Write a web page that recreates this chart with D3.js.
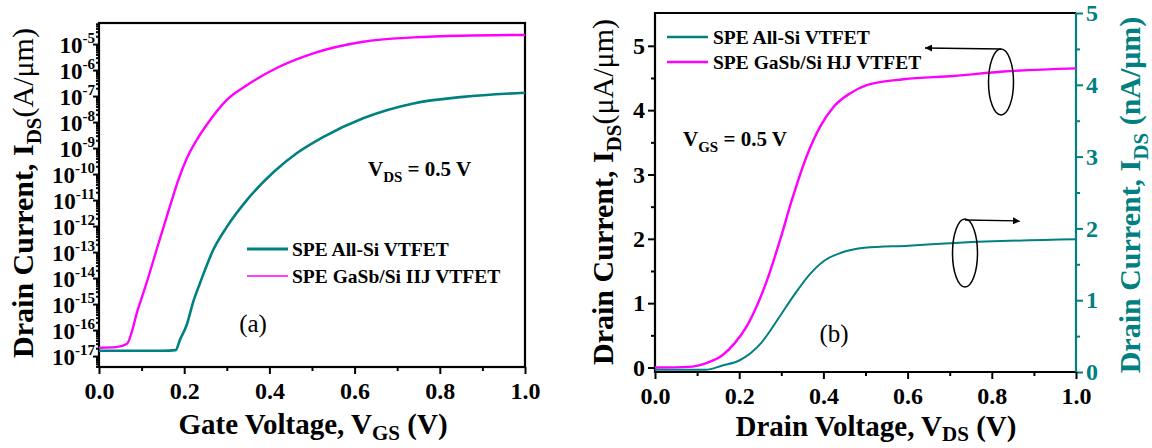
<!DOCTYPE html>
<html>
<head>
<meta charset="utf-8">
<script src="https://cdn.jsdelivr.net/npm/d3@7"></script>
<style>
  body { margin: 0; background: #fff; }
  svg { display: block; font-family: "Liberation Serif", "Times New Roman", serif; }
</style>
</head>
<body>
<div id="graph"></div>
<script>
// ---- data ----
// (a) transfer characteristics, VDS = 0.5 V, log scale (A/um)
const vgsAllSi = [0, 0.05, 0.1, 0.15, 0.18, 0.19, 0.206, 0.221, 0.237, 0.268, 0.30, 0.347, 0.41, 0.464, 0.527, 0.62, 0.738, 0.855, 1.0];
const idAllSi = [1.6e-17, 1.6e-17, 1.6e-17, 1.6e-17, 1.7e-17, 4.2e-17, 1.6e-16, 1.2e-15, 6.3e-15, 1.2e-13, 9.3e-13, 1e-11, 1.2e-10, 6.3e-10, 2.7e-9, 1.4e-8, 5.2e-8, 9.3e-8, 1.35e-7];
const vgsGaSb = [0, 0.04, 0.065, 0.092, 0.116, 0.135, 0.159, 0.171, 0.186, 0.206, 0.229, 0.261, 0.30, 0.347, 0.417, 0.503, 0.62, 0.738, 0.85, 1.0];
const idGaSb = [2.1e-17, 2.2e-17, 2.9e-17, 6.8e-16, 1.1e-14, 1.2e-13, 2.3e-12, 1e-11, 5.9e-11, 4e-10, 2e-9, 1.2e-8, 7.1e-8, 2.6e-7, 1.2e-6, 4.4e-6, 1.23e-5, 1.8e-5, 2.1e-5, 2.24e-5];

// (b) output characteristics, VGS = 0.5 V
const vdsGaSb = [0, 0.08, 0.12, 0.16, 0.189, 0.217, 0.241, 0.269, 0.297, 0.325, 0.36, 0.392, 0.424, 0.463, 0.503, 0.59, 0.709, 0.827, 1.0];
const idsGaSb = [0, 0.01, 0.065, 0.19, 0.375, 0.63, 0.945, 1.41, 1.98, 2.6, 3.28, 3.74, 4.05, 4.26, 4.39, 4.48, 4.53, 4.60, 4.65]; // uA/um
const vdsAllSi = [0, 0.12, 0.16, 0.2, 0.253, 0.297, 0.329, 0.366, 0.402, 0.442, 0.498, 0.602, 0.723, 1.0];
const idsAllSi = [0.03, 0.03, 0.09, 0.16, 0.41, 0.78, 1.06, 1.35, 1.55, 1.66, 1.73, 1.76, 1.80, 1.85]; // nA/um

const xTicks = [0, 0.2, 0.4, 0.6, 0.8, 1.0];
const xMinor = [0.1, 0.3, 0.5, 0.7, 0.9];
const logExps = d3.range(-17, -4); // -17 .. -5
const linTicks = [0, 1, 2, 3, 4, 5];
const linMinor = [0.5, 1.5, 2.5, 3.5, 4.5];

const TEAL = "#008080";
const MAGENTA = "#ff00ff";

const width = 1152, height = 448;

const svg = d3.select("#graph").append("svg")
    .attr("width", width)
    .attr("height", height);

// ---------- panel (a) ----------
const xa = d3.scaleLinear().domain([0, 1]).range([99, 525]);
const ya = d3.scaleLog().domain([Math.pow(10, -17.42), Math.pow(10, -4.19)]).range([367, 23]);

// minor log ticks
const minorLog = [];
logExps.concat([-18]).forEach(e => {
    for (let m = 2; m <= 9; m++) {
        const v = m * Math.pow(10, e);
        if (v >= ya.domain()[0] && v <= ya.domain()[1]) minorLog.push(v);
    }
});

function styleAxis(g, color) {
    g.select(".domain").remove();
    g.selectAll("line").attr("stroke", color).attr("stroke-width", 2);
}

svg.append("g")
    .attr("transform", `translate(${xa(0)},0)`)
    .call(d3.axisLeft(ya).tickValues(minorLog).tickSize(3).tickFormat(""))
    .call(g => styleAxis(g, "#000"));

svg.append("g")
    .attr("transform", `translate(${xa(0)},0)`)
    .call(d3.axisLeft(ya).tickValues(logExps.map(e => Math.pow(10, e))).tickSize(6).tickFormat(""))
    .call(g => styleAxis(g, "#000"));

// 10^n labels
logExps.forEach(e => {
    const yy = ya(Math.pow(10, e));
    const t = svg.append("text")
        .attr("x", 95).attr("y", yy + 9)
        .attr("text-anchor", "end")
        .attr("font-weight", "bold")
        .attr("font-size", 23);
    t.append("tspan").text("10");
    t.append("tspan").attr("font-size", 15).attr("dy", -10).text(String(e));
});

function xAxisBottom(x, y0) {
    svg.append("g")
        .attr("transform", `translate(0,${y0})`)
        .call(d3.axisBottom(x).tickValues(xMinor).tickSize(4).tickFormat(""))
        .call(g => styleAxis(g, "#000"));
    svg.append("g")
        .attr("transform", `translate(0,${y0})`)
        .call(d3.axisBottom(x).tickValues(xTicks).tickSize(7).tickFormat(d3.format(".1f")))
        .call(g => styleAxis(g, "#000"))
        .call(g => g.selectAll("text")
            .attr("font-family", "Liberation Serif, Times New Roman, serif")
            .attr("font-size", 24)
            .attr("font-weight", "bold")
            .attr("fill", "#000")
            .attr("dy", "0.9em"));
}
xAxisBottom(xa, 367);

// frame
svg.append("rect")
    .attr("x", xa(0)).attr("y", ya.range()[1])
    .attr("width", xa(1) - xa(0)).attr("height", ya.range()[0] - ya.range()[1])
    .attr("fill", "none").attr("stroke", "#000").attr("stroke-width", 2.2);

const lineA = d3.line().curve(d3.curveMonotoneX);
svg.append("path")
    .attr("d", lineA(vgsAllSi.map((v, i) => [xa(v), ya(idAllSi[i])])))
    .attr("fill", "none").attr("stroke", TEAL).attr("stroke-width", 2.6);
svg.append("path")
    .attr("d", lineA(vgsGaSb.map((v, i) => [xa(v), ya(idGaSb[i])])))
    .attr("fill", "none").attr("stroke", MAGENTA).attr("stroke-width", 2.4);

// legend (a)
svg.append("line").attr("x1", 247).attr("x2", 288).attr("y1", 249).attr("y2", 249)
    .attr("stroke", TEAL).attr("stroke-width", 3);
svg.append("text").attr("x", 292).attr("y", 256).attr("font-size", 19.5).attr("font-weight", "bold")
    .text("SPE All-Si VTFET");
svg.append("line").attr("x1", 247).attr("x2", 288).attr("y1", 276).attr("y2", 276)
    .attr("stroke", MAGENTA).attr("stroke-width", 1.5);
svg.append("text").attr("x", 292).attr("y", 283).attr("font-size", 19.5).attr("font-weight", "bold")
    .text("SPE GaSb/Si IIJ VTFET");

// VDS label
const vds = svg.append("text").attr("x", 368).attr("y", 176).attr("font-size", 21).attr("font-weight", "bold");
vds.append("tspan").text("V");
vds.append("tspan").attr("font-size", 15).attr("dy", 6).text("DS");
vds.append("tspan").attr("dy", -6).text(" = 0.5 V");

svg.append("text").attr("x", 253).attr("y", 332).attr("text-anchor", "middle").attr("font-size", 25)
    .text("(a)");

// axis titles (a)
const xta = svg.append("text").attr("x", 313).attr("y", 434).attr("text-anchor", "middle")
    .attr("font-size", 29).attr("font-weight", "bold");
xta.append("tspan").text("Gate Voltage, V");
xta.append("tspan").attr("font-size", 21).attr("dy", 6).text("GS");
xta.append("tspan").attr("dy", -6).text(" (V)");

const yta = svg.append("text").attr("transform", "translate(33,193) rotate(-90)").attr("text-anchor", "middle")
    .attr("font-size", 30).attr("font-weight", "bold");
yta.append("tspan").text("Drain Current, I");
yta.append("tspan").attr("font-size", 21).attr("dy", 8).text("DS");
yta.append("tspan").attr("dy", -8).attr("font-weight", "normal").text("(A/μm)");

// ---------- panel (b) ----------
const xb = d3.scaleLinear().domain([0, 1]).range([655, 1076]);
const ybL = d3.scaleLinear().domain([-0.07, 5.51]).range([372, 13]);
const ybR = d3.scaleLinear().domain([0, 5]).range([372, 13]);

svg.append("g")
    .attr("transform", `translate(${xb(0)},0)`)
    .call(d3.axisLeft(ybL).tickValues(linMinor).tickSize(4).tickFormat(""))
    .call(g => styleAxis(g, "#000"));
svg.append("g")
    .attr("transform", `translate(${xb(0)},0)`)
    .call(d3.axisLeft(ybL).tickValues(linTicks).tickSize(7).tickFormat(d3.format("d")))
    .call(g => styleAxis(g, "#000"))
    .call(g => g.selectAll("text")
        .attr("font-family", "Liberation Serif, Times New Roman, serif")
        .attr("font-size", 24).attr("font-weight", "bold").attr("fill", "#000"));

svg.append("g")
    .attr("transform", `translate(${xb(1)},0)`)
    .call(d3.axisRight(ybR).tickValues(linMinor).tickSize(4).tickFormat(""))
    .call(g => styleAxis(g, TEAL));
svg.append("g")
    .attr("transform", `translate(${xb(1)},0)`)
    .call(d3.axisRight(ybR).tickValues(linTicks).tickSize(7).tickFormat(d3.format("d")))
    .call(g => styleAxis(g, TEAL))
    .call(g => g.selectAll("text")
        .attr("font-family", "Liberation Serif, Times New Roman, serif")
        .attr("font-size", 24).attr("font-weight", "bold").attr("fill", TEAL));

xAxisBottom(xb, 372);

// frame (b)
svg.append("path").attr("d", `M${xb(1)},13H${xb(0)}V372H${xb(1)}`)
    .attr("fill", "none").attr("stroke", "#000").attr("stroke-width", 2.2);
svg.append("line").attr("x1", xb(1)).attr("x2", xb(1)).attr("y1", 13).attr("y2", 372)
    .attr("stroke", TEAL).attr("stroke-width", 2.2);

const lineB = d3.line().curve(d3.curveMonotoneX);
svg.append("path")
    .attr("d", lineB(vdsAllSi.map((v, i) => [xb(v), ybR(idsAllSi[i])])))
    .attr("fill", "none").attr("stroke", TEAL).attr("stroke-width", 2);
svg.append("path")
    .attr("d", lineB(vdsGaSb.map((v, i) => [xb(v), ybL(idsGaSb[i])])))
    .attr("fill", "none").attr("stroke", MAGENTA).attr("stroke-width", 2.4);

// legend (b)
svg.append("line").attr("x1", 667).attr("x2", 708).attr("y1", 37).attr("y2", 37)
    .attr("stroke", TEAL).attr("stroke-width", 2.5);
svg.append("text").attr("x", 713).attr("y", 44).attr("font-size", 19.5).attr("font-weight", "bold")
    .text("SPE All-Si VTFET");
svg.append("line").attr("x1", 667).attr("x2", 708).attr("y1", 62).attr("y2", 62)
    .attr("stroke", MAGENTA).attr("stroke-width", 2.5);
svg.append("text").attr("x", 713).attr("y", 69).attr("font-size", 19.5).attr("font-weight", "bold")
    .text("SPE GaSb/Si HJ VTFET");

const vgs = svg.append("text").attr("x", 683).attr("y", 146).attr("font-size", 21).attr("font-weight", "bold");
vgs.append("tspan").text("V");
vgs.append("tspan").attr("font-size", 15).attr("dy", 6).text("GS");
vgs.append("tspan").attr("dy", -6).text(" = 0.5 V");

svg.append("text").attr("x", 834).attr("y", 342).attr("text-anchor", "middle").attr("font-size", 25)
    .text("(b)");

// ellipses with arrows
svg.append("defs").append("marker")
    .attr("id", "arr").attr("viewBox", "0 0 10 10").attr("refX", 10).attr("refY", 5)
    .attr("markerWidth", 11).attr("markerHeight", 7).attr("orient", "auto-start-reverse")
    .attr("markerUnits", "userSpaceOnUse")
    .append("path").attr("d", "M0,0L10,5L0,10Z").attr("fill", "#000");

svg.append("ellipse").attr("cx", 1001).attr("cy", 82).attr("rx", 12.5).attr("ry", 33)
    .attr("fill", "none").attr("stroke", "#000").attr("stroke-width", 1.5);
svg.append("line").attr("x1", 1001).attr("y1", 49).attr("x2", 925).attr("y2", 48)
    .attr("stroke", "#000").attr("stroke-width", 1.3).attr("marker-end", "url(#arr)");

svg.append("ellipse").attr("cx", 965).attr("cy", 253).attr("rx", 12.5).attr("ry", 34)
    .attr("fill", "none").attr("stroke", "#000").attr("stroke-width", 1.5);
svg.append("line").attr("x1", 965).attr("y1", 220).attr("x2", 1020).attr("y2", 221)
    .attr("stroke", "#000").attr("stroke-width", 1.3).attr("marker-end", "url(#arr)");

// axis titles (b)
const xtb = svg.append("text").attr("x", 876).attr("y", 436).attr("text-anchor", "middle")
    .attr("font-size", 29).attr("font-weight", "bold");
xtb.append("tspan").text("Drain Voltage, V");
xtb.append("tspan").attr("font-size", 21).attr("dy", 5).text("DS");
xtb.append("tspan").attr("dy", -5).text(" (V)");

const ytb = svg.append("text").attr("transform", "translate(613,192) rotate(-90)").attr("text-anchor", "middle")
    .attr("font-size", 30).attr("font-weight", "bold");
ytb.append("tspan").text("Drain Current, I");
ytb.append("tspan").attr("font-size", 21).attr("dy", 8).text("DS");
ytb.append("tspan").attr("dy", -8).attr("font-weight", "normal").text("(μA/μm)");

const ytr = svg.append("text").attr("transform", "translate(1140,195) rotate(-90)").attr("text-anchor", "middle")
    .attr("font-size", 30).attr("font-weight", "bold").attr("fill", TEAL);
ytr.append("tspan").text("Drain Current, I");
ytr.append("tspan").attr("font-size", 21).attr("dy", 8).text("DS");
ytr.append("tspan").attr("dy", -8).text(" (nA/μm)");
</script>
</body>
</html>
